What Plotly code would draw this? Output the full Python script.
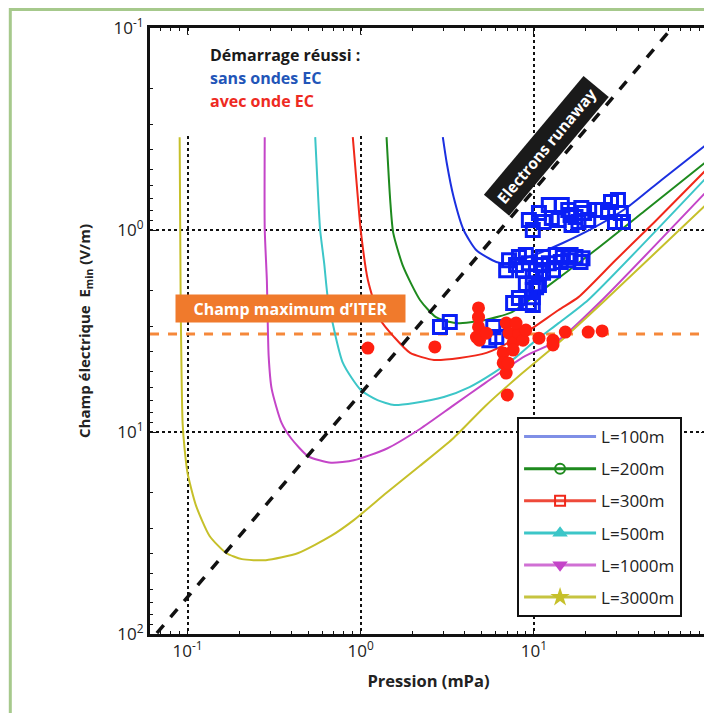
import plotly.graph_objects as go

# ---------------- data ----------------
# Curves E_min(p) for several connection lengths L
p_100 = [2.98, 3.14, 3.44, 3.93, 4.66, 6.07, 6.92, 9.36, 14.7, 22.6, 34.9, 54.6, 98.6]
e_100 = [0.347, 0.466, 0.687, 1.0, 1.26, 1.44, 1.46, 1.36, 1.16, 0.966, 0.769, 0.565, 0.379]

p_200 = [1.41, 1.48, 1.54, 1.76, 2.20, 2.72, 3.54, 5.25, 7.48, 10.5, 22.6, 43.6, 98.6]
e_200 = [0.347, 0.710, 1.03, 1.52, 2.22, 2.70, 2.89, 2.79, 2.55, 2.07, 1.26, 0.805, 0.460]

p_300 = [0.900, 0.962, 1.0, 1.10, 1.30, 1.56, 1.93, 2.65, 3.73, 5.32, 7.59, 9.86, 13.9, 18.1, 29.4, 49.8, 98.6]
e_300 = [0.347, 0.687, 1.0, 1.77, 2.79, 3.39, 4.06, 4.40, 4.30, 4.06, 3.51, 3.05, 2.49, 2.15, 1.42, 0.912, 0.505]

p_500 = [0.546, 0.568, 0.583, 0.615, 0.648, 0.789, 1.0, 1.25, 1.56, 2.04, 3.02, 4.25, 5.83, 7.89, 9.86, 13.9, 20.6, 98.6]
e_500 = [0.347, 0.687, 1.0, 1.46, 2.22, 4.55, 6.19, 6.95, 7.35, 7.18, 6.71, 5.99, 5.11, 4.26, 3.62, 2.89, 2.22, 0.553]

p_1000 = [0.279, 0.279, 0.287, 0.294, 0.306, 0.349, 0.398, 0.498, 0.674, 0.912, 1.41, 2.20, 3.40, 5.25, 8.89, 13.9, 24.8, 98.6]
e_1000 = [0.347, 0.989, 1.77, 4.21, 6.12, 9.02, 10.8, 13.2, 14.2, 13.8, 12.1, 9.66, 7.43, 5.71, 4.21, 3.51, 2.22, 0.649]

p_3000 = [0.0900, 0.0912, 0.0936, 0.0961, 0.100, 0.112, 0.134, 0.167, 0.206, 0.283, 0.436, 0.674, 0.912, 1.41, 2.20, 3.40, 5.25, 8.20, 13.9, 24.8, 98.6]
e_3000 = [0.347, 2.22, 9.02, 12.1, 16.0, 23.2, 32.7, 39.7, 42.6, 43.1, 39.7, 32.7, 27.3, 20.0, 14.7, 10.8, 7.43, 5.28, 3.62, 2.30, 0.751]

curve_names = ["L=100m", "L=200m", "L=300m", "L=500m", "L=1000m", "L=3000m"]
curve_colors = ["#1b30e0", "#1e8a1e", "#f0281a", "#3cc6c8", "#c445c8", "#c6c02a"]
legend_line_colors = ["#7f8fe6", "#1e8a1e", "#ee4a3a", "#3cc6c8", "#d070d4", "#c6c440"]
curve_symbols = ["circle", "circle-open", "square-open", "triangle-up", "triangle-down", "star"]

# Runaway electrons limit (dashed black line)
p_runaway = [0.0665, 61.5]
e_runaway = [98.9, 0.102]

# ITER maximum field
iter_field = 3.27
p_iter = [0.0607, 100.0]

# Successful start-up without EC waves (blue squares)
p_sans = [9.36, 9.86, 10.7, 12.2, 12.7, 13.9, 15.8, 17.4, 18.1, 19.5, 22.6, 24.8, 27.9, 30.6, 31.8, 32.7, 16.5, 18.8,
          11.4, 14.5, 20.6, 26.8, 29.4, 16.3,
          7.19, 8.20, 8.65, 9.36, 9.86, 10.3, 11.3, 12.2, 13.4, 14.7, 15.8, 17.4, 19.1, 9.86, 9.36, 8.20, 7.59,
          10.3, 11.3, 7.89, 8.99, 11.0, 12.9, 14.3, 16.3, 18.6, 10.7, 9.86, 6.92,
          2.87, 3.27, 5.83, 6.07, 5.53, 9.86, 8.99]
e_sans = [0.891, 1.0, 0.824, 0.751, 0.873, 0.891, 0.796, 0.863, 0.912, 0.824, 0.796, 0.796, 0.726, 0.710, 0.824, 0.912, 0.944, 0.778,
          0.912, 0.751, 0.891, 0.815, 0.912, 0.843,
          1.41, 1.36, 1.58, 1.46, 1.71, 1.92, 1.36, 1.46, 1.33, 1.36, 1.41, 1.36, 1.38, 2.15, 2.30, 2.17, 2.30,
          1.58, 1.63, 1.49, 1.33, 1.49, 1.58, 1.44, 1.33, 1.44, 1.87, 2.35, 1.58,
          3.02, 2.85, 3.02, 3.39, 3.51, 1.98, 1.85]

# Successful start-up with EC wave (red dots)
p_avec = [1.10, 2.68, 4.79, 4.79, 4.79, 4.66, 4.85, 5.32, 6.92, 7.19, 7.59, 6.65, 6.65, 6.92, 7.10, 7.59, 8.20, 8.65,
          8.99, 7.89, 7.02, 10.7, 12.9, 12.9, 15.2, 20.6, 24.8]
e_avec = [3.84, 3.79, 2.43, 2.70, 3.02, 3.39, 3.51, 3.24, 2.89, 3.24, 3.62, 4.06, 4.55, 5.11, 4.55, 3.93, 3.24, 3.51,
          3.13, 2.89, 6.56, 3.43, 3.51, 3.71, 3.20, 3.20, 3.16]

tick_vals = [0.1, 1, 10, 100]
tick_text = ["10<sup>-1</sup>", "10<sup>0</sup>", "10<sup>1</sup>", "10<sup>2</sup>"]

# ---------------- figure ----------------
fig = go.Figure()

curves_p = [p_100, p_200, p_300, p_500, p_1000, p_3000]
curves_e = [e_100, e_200, e_300, e_500, e_1000, e_3000]

# ITER line
fig.add_trace(go.Scatter(x=p_iter, y=[iter_field, iter_field], mode="lines",
                         line=dict(color="#f5883a", width=3, dash="dash"), showlegend=False, hoverinfo="skip"))

for p, e, c in zip(curves_p, curves_e, curve_colors):
    fig.add_trace(go.Scatter(x=p, y=e, mode="lines", line=dict(color=c, width=2, shape="spline", smoothing=0.6),
                             showlegend=False))

# runaway line
fig.add_trace(go.Scatter(x=p_runaway, y=e_runaway, mode="lines",
                         line=dict(color="#111111", width=3.5, dash="dash"), showlegend=False))

# data points
fig.add_trace(go.Scatter(x=p_sans, y=e_sans, mode="markers", showlegend=False,
                         marker=dict(symbol="square-open", size=13, color="#0a1ff5", line=dict(width=3))))
fig.add_trace(go.Scatter(x=p_avec, y=e_avec, mode="markers", showlegend=False,
                         marker=dict(symbol="circle", size=13, color="#ff1f10")))

# legend entries
for i, (name, lc, c, sym) in enumerate(zip(curve_names, legend_line_colors, curve_colors, curve_symbols)):
    mode = "lines" if i == 0 else "lines+markers"
    fig.add_trace(go.Scatter(x=[None], y=[None], mode=mode, name=name, legendgroup=name,
                             line=dict(color=lc, width=3),
                             marker=dict(symbol=sym, size=10, color=c, line=dict(width=2, color=c))))

font_family = "Open Sans, DejaVu Sans, sans-serif"

fig.update_layout(
    width=704, height=705,
    margin=dict(l=142, r=2, t=20, b=79),
    paper_bgcolor="white", plot_bgcolor="white",
    font=dict(family=font_family, color="#222222"),
    legend=dict(x=0.659, y=0.358, xanchor="left", yanchor="top",
                bgcolor="white", bordercolor="#111111", borderwidth=2,
                font=dict(size=17, color="#222222"), itemwidth=72, tracegroupgap=7),
    xaxis=dict(type="log", range=[-1.217, 2.0], tickvals=tick_vals, ticktext=tick_text,
               showgrid=True, gridcolor="#111111", griddash="dot", gridwidth=1.5,
               showline=True, linecolor="#111111", linewidth=3, mirror="allticks",
               ticks="inside", ticklen=6, tickcolor="#111111", tickfont=dict(size=17, color="#222222"),
               minor=dict(dtick="D1", ticks="inside", ticklen=3, tickcolor="#111111", showgrid=False),
               title=dict(text="<b>Pression (mPa)</b>", font=dict(size=16.5, color="#222222"), standoff=15),
               zeroline=False),
    yaxis=dict(type="log", range=[2, -1], tickvals=tick_vals, ticktext=tick_text,
               showgrid=True, gridcolor="#111111", griddash="dot", gridwidth=1.5,
               showline=True, linecolor="#111111", linewidth=3, mirror="allticks",
               ticks="inside", ticklen=6, tickcolor="#111111", tickfont=dict(size=17, color="#222222"),
               minor=dict(dtick="D1", ticks="inside", ticklen=3, tickcolor="#111111", showgrid=False),
               title=dict(text="<b>Champ électrique  E<sub>min</sub> (V/m)</b>", font=dict(size=15, color="#222222"),
                          standoff=20),
               zeroline=False),
    shapes=[
        # white area behind the top-left caption (hides the grid there)
        dict(type="rect", xref="paper", yref="paper", x0=0.012, x1=0.57, y0=0.823, y1=0.989,
             fillcolor="white", line=dict(width=0), layer="above"),
        # light green frame around the figure
        dict(type="rect", xref="paper", yref="paper", x0=-0.2508, x1=1.2, y0=-0.3, y1=1.0305,
             fillcolor="rgba(0,0,0,0)", line=dict(color="#a6c98c", width=3), layer="above"),
    ],
    annotations=[
        dict(text="<b>Démarrage réussi :</b>", xref="paper", yref="paper", x=0.105, y=0.955,
             xanchor="left", yanchor="middle", showarrow=False, font=dict(size=16, color="#1a1a1a")),
        dict(text="<b>sans ondes EC</b>", xref="paper", yref="paper", x=0.105, y=0.918,
             xanchor="left", yanchor="middle", showarrow=False, font=dict(size=16, color="#2255b8")),
        dict(text="<b>avec onde EC</b>", xref="paper", yref="paper", x=0.105, y=0.880,
             xanchor="left", yanchor="middle", showarrow=False, font=dict(size=16, color="#ee2a22")),
        dict(text="<b>Champ maximum d’ITER</b>", xref="paper", yref="paper", x=0.252, y=0.5365,
             xanchor="center", yanchor="middle", showarrow=False, font=dict(size=16, color="white"),
             bgcolor="#f07a2c", width=225, height=23, borderpad=2),
        dict(text="<b>Electrons runaway</b>", xref="paper", yref="paper", x=0.711, y=0.806,
             xanchor="center", yanchor="middle", showarrow=False, textangle=-50,
             font=dict(size=15.5, color="white"), bgcolor="#1a1a1a", borderpad=5),
    ],
)

fig.write_html("out.html")
